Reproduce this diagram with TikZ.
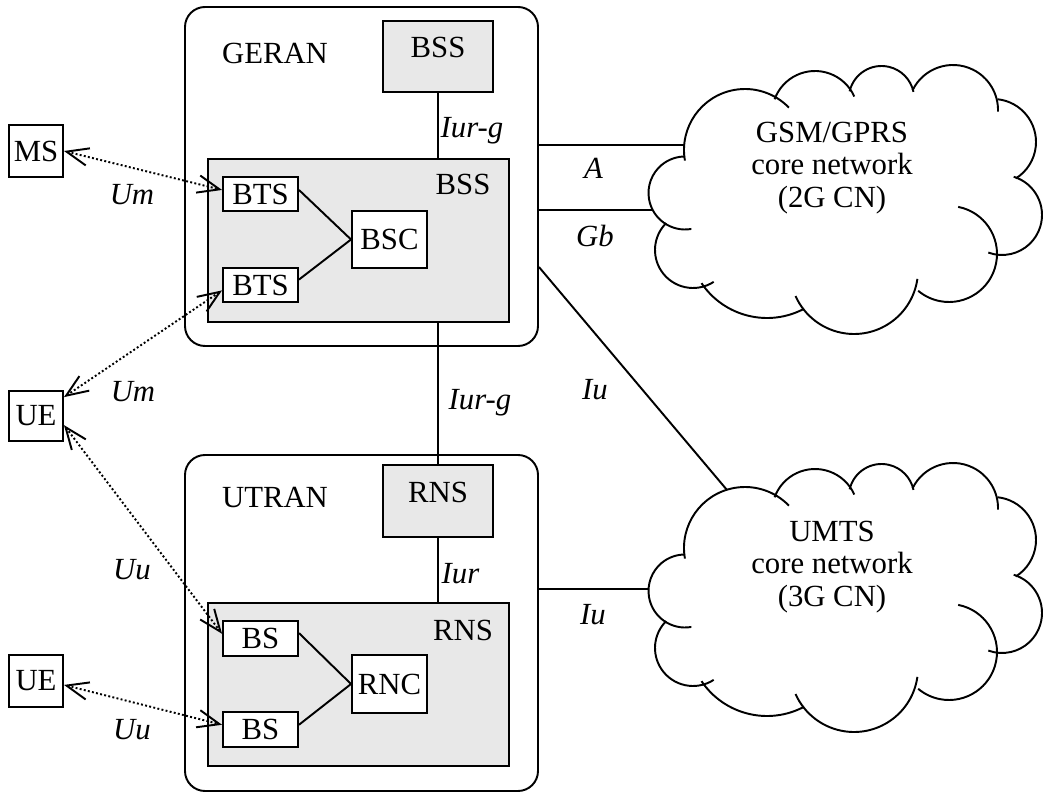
\documentclass[tikz,border=0pt]{standalone}
\usepackage{fontspec}
\setmainfont{Liberation Serif}
\usetikzlibrary{arrows.meta,fit}

% one lobe of a cloud: centre x, centre y, radius, start angle, end angle
\newcommand\cloudlobe[5]{\draw (#1,#2) ++(#4:#3) arc[start angle=#4, end angle=#5, radius=#3];}
% outline of a core-network cloud
\newcommand\cloudoutline{%
  \cloudlobe{745}{150}{61}{170}{316}
  \cloudlobe{815}{114}{43}{200}{336}
  \cloudlobe{881.5}{98.7}{32.7}{193}{348}
  \cloudlobe{953}{110}{45}{206}{362}
  \cloudlobe{993}{142}{43}{276}{418}
  \cloudlobe{1002}{215}{40}{287}{470}
  \cloudlobe{949}{254}{48}{281}{490}
  \cloudlobe{854}{270}{64}{8}{156}
  \cloudlobe{767}{239}{79}{62}{146}
  \cloudlobe{693}{250}{38}{57}{225}
  \cloudlobe{685}{193}{36.5}{80}{270}}

\begin{document}
\begin{tikzpicture}[x=0.02cm, y=-0.02cm, line width=1.1pt,
  font=\fontsize{17.5}{18.7}\selectfont,
  ran/.style={draw, rounded corners=0.4cm, inner sep=0pt},
  grey/.style={draw, fill=gray!18, inner sep=0pt},
  unit/.style={draw, fill=white, inner sep=0pt},
  iface/.style={font=\fontsize{17.5}{18.7}\selectfont\itshape},
  cn/.style={align=center},
  radio/.style={dash pattern=on 1.1pt off 1.3pt,
    {Straight Barb[length=12.5pt,width=10pt]}-{Straight Barb[length=12.5pt,width=10pt]}}]

\useasboundingbox (0,0) rectangle (1052,793);

% radio access networks
\node[ran, fit={(185,7) (538,346)}] (geran) {};
\node[ran, fit={(185,455) (538,791)}] (utran) {};
\node (geranlbl) at (275,53) {GERAN};
\node (utranlbl) at (275,498) {UTRAN};

% GERAN contents
\node[grey, fit={(383,21) (493,92)}] (bssTop) {};
\node (bssTopLbl) at (438,47) {BSS};
\node[grey, fit={(208,159) (509,322)}] (bssIn) {};
\node (bssInLbl) at (463,184) {BSS};
\node[unit, fit={(223,177) (298,211)}, label=center:BTS] (bts1) {};
\node[unit, fit={(223,268) (298,302)}, label=center:BTS] (bts2) {};
\node[unit, fit={(352,211) (427,268)}, label=center:BSC] (bsc) {};

% UTRAN contents
\node[grey, fit={(383,465) (493,537)}] (rnsTop) {};
\node (rnsTopLbl) at (438,492) {RNS};
\node[grey, fit={(208,603) (509,766)}] (rnsIn) {};
\node (rnsInLbl) at (463,630) {RNS};
\node[unit, fit={(223,621) (298,656)}, label=center:BS] (bs1) {};
\node[unit, fit={(223,712) (298,747)}, label=center:BS] (bs2) {};
\node[unit, fit={(352,655) (427,713)}, label=center:RNC] (rnc) {};

% terminals
\node[unit, fit={(9,125) (63,177)}, label=center:MS] (ms) {};
\node[unit, fit={(9,391) (63,441)}, label=center:UE] (ue1) {};
\node[unit, fit={(9,655) (63,707)}, label=center:UE] (ue2) {};

% core networks
\cloudoutline
\begin{scope}[shift={(0,398)}]
  \cloudoutline
\end{scope}
\node[cn] (cn2g) at (832,168) {GSM/GPRS\\core network\\(2G CN)};
\node[cn] (cn3g) at (832,567) {UMTS\\core network\\(3G CN)};
\coordinate (cnA) at (684,145);
\coordinate (cnGb) at (652,210);
\coordinate (cnIuG) at (727,490);
\coordinate (cnIuU) at (648.5,589);

% wired interfaces
\draw (bts1.6) -- (bsc.west);
\draw (bts2.8) -- (bsc.west);
\draw (bs1.8) -- (rnc.west);
\draw (bs2.7) -- (rnc.west);
\draw (bssTop.south) -- (bssTop.south |- bssIn.north);
\draw (bssTop.south |- bssIn.south) -- (rnsTop.north);
\draw (rnsTop.south) -- (rnsTop.south |- rnsIn.north);
\draw (geran.east |- cnA) -- (cnA);
\draw (geran.east |- cnGb) -- (cnGb);
\draw (geran.east |- bts2.north) -- (cnIuG);
\draw (utran.east |- cnIuU) -- (cnIuU);

% radio interfaces
\draw[radio] (ms.east) -- (bts1.174);
\draw[radio] (ue1.34) -- (bts2.188);
\draw[radio] (ue1.-18) -- (bs1.173);
\draw[radio] (ue2.-8) -- (bs2.173);

% interface names
\node[iface] (lA) at (593.5,168) {A};
\node[iface] (lGb) at (595,236) {Gb};
\node[iface] (lIuG) at (595,390) {Iu};
\node[iface] (lIuU) at (593,615) {Iu};
\node[iface] (lIurg1) at (472,131) {Iur-g};
\node[iface] (lIurg2) at (480,403) {Iur-g};
\node[iface] (lIur) at (460.5,574) {Iur};
\node[iface] (lUm1) at (132,195) {Um};
\node[iface] (lUm2) at (133,392) {Um};
\node[iface] (lUu1) at (132,570) {Uu};
\node[iface] (lUu2) at (132,730) {Uu};
\end{tikzpicture}
\end{document}
